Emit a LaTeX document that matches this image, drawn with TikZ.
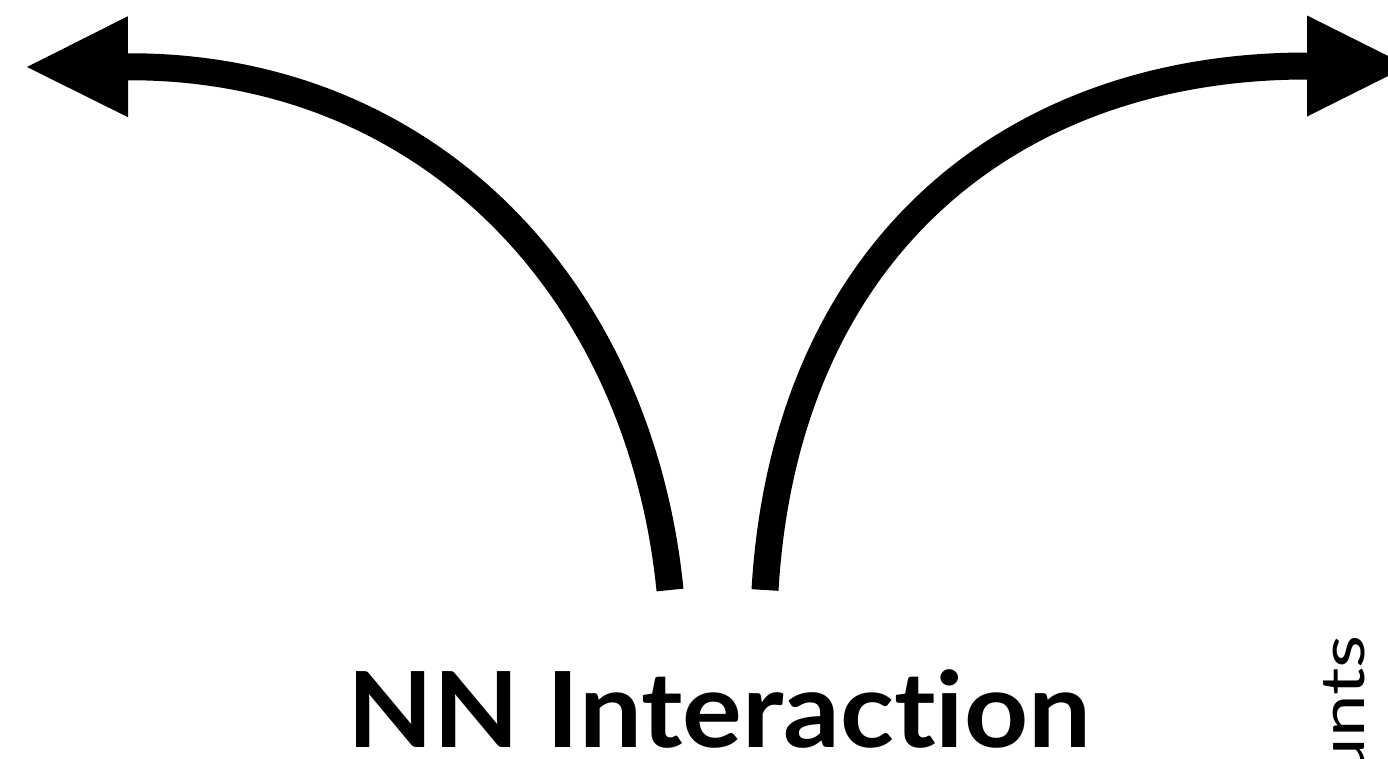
\documentclass[tikz,border=0pt]{standalone}
\usepackage{fontspec}
\setmainfont[Ligatures=NoCommon]{Lato}
\usetikzlibrary{arrows.meta}
\tikzset{
  bigarrow/.style={line width=27pt, draw=black,
    -{Triangle[length=101pt,width=101pt,line width=0pt]}},
  title/.style={font=\fontsize{105}{110}\selectfont\bfseries, inner sep=0pt},
  axislabel/.style={font=\fontsize{61}{64}\selectfont, inner sep=0pt, rotate=90}
}
\begin{document}
\begin{tikzpicture}[x=1pt,y=-1pt]
\clip (0,0) rectangle (1388,758);
\fill[white] (0,0) rectangle (1388,758);
\coordinate (lbot) at (670,590);
\coordinate (ltip) at (27,67);
\coordinate (rbot) at (765,590);
\coordinate (rtip) at (1408,66);
\draw[bigarrow] (lbot) .. controls (640,290) and (430,66) .. (ltip);
\draw[bigarrow] (rbot) .. controls (785,250) and (1010,66) .. (rtip);
\node[title, anchor=base west] (nn) at (347,747) {\scalebox{1.065}[1]{NN Interaction}};
\node[axislabel, anchor=base east] (counts) at (1364,635) {\scalebox{1.25}[1]{Counts}};
\end{tikzpicture}
\end{document}
